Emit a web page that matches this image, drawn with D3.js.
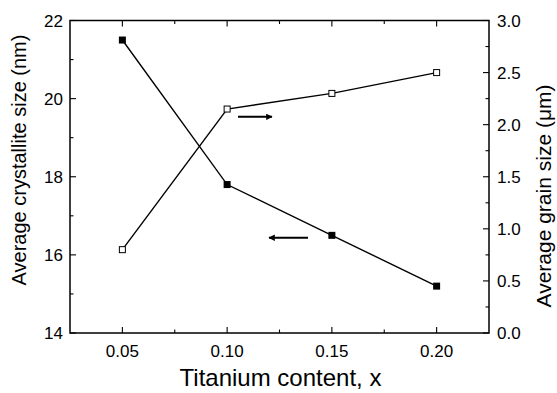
<!DOCTYPE html>
<html>
<head>
<meta charset="utf-8">
<script src="https://cdn.jsdelivr.net/npm/d3@7"></script>
<style>
  body { margin: 0; background: #fff; }
  text { font-family: "Liberation Sans", Arial, sans-serif; fill: #000; }
</style>
</head>
<body>
<div id="chart"></div>
<script>
// data
var titanium = [0.05, 0.10, 0.15, 0.20];
var crystalliteSize = [21.5, 17.8, 16.5, 15.2];   // nm, left axis
var grainSize = [0.80, 2.15, 2.30, 2.50];          // um, right axis
var xTicks = [0.05, 0.10, 0.15, 0.20];
var yLeftTicks = [14, 16, 18, 20, 22];
var yRightTicks = [0.0, 0.5, 1.0, 1.5, 2.0, 2.5, 3.0];
// arrows: [x start, x end, y] in data units
var arrowRight = [0.1052, 0.1214, 2.075];
var arrowLeft = [0.1386, 0.1200, 16.44];

var W = 557, H = 393;
var margin = {top: 20.5, right: 68, bottom: 60, left: 70};
var w = W - margin.left - margin.right,
    h = H - margin.top - margin.bottom;

var svg = d3.select("#chart").append("svg")
    .attr("width", W)
    .attr("height", H);

var defs = svg.append("defs");
defs.append("marker")
    .attr("id", "head")
    .attr("viewBox", "0 0 10 10")
    .attr("refX", 9).attr("refY", 5)
    .attr("markerWidth", 5.5).attr("markerHeight", 3.2)
    .attr("markerUnits", "strokeWidth")
    .attr("orient", "auto")
  .append("path")
    .attr("d", "M0,0 L10,5 L0,10 Z")
    .attr("fill", "#000");

var g = svg.append("g")
    .attr("transform", "translate(" + margin.left + "," + margin.top + ")");

var x = d3.scaleLinear().domain([0.025, 0.225]).range([0, w]);
var yL = d3.scaleLinear().domain([14, 22]).range([h, 0]);
var yR = d3.scaleLinear().domain([0, 3]).range([h, 0]);

function minor(ticks) {
  var out = [];
  for (var i = 0; i < ticks.length - 1; i++) out.push((ticks[i] + ticks[i + 1]) / 2);
  return out;
}
var xMinor = minor(xTicks);

// frame
g.append("rect")
    .attr("width", w).attr("height", h)
    .attr("fill", "none")
    .attr("stroke", "#000")
    .attr("stroke-width", 1.5);

// ticks, pointing inward
function tickLines(vals, len, fn) {
  g.append("g").selectAll("line").data(vals).enter().append("line")
    .attr("stroke", "#000").attr("stroke-width", 1.1)
    .each(function(d) { fn(d3.select(this), d, len); });
}
var bottomT = function(s, d, l) { s.attr("x1", x(d)).attr("x2", x(d)).attr("y1", h).attr("y2", h - l); };
var topT = function(s, d, l) { s.attr("x1", x(d)).attr("x2", x(d)).attr("y1", 0).attr("y2", l); };
var leftT = function(s, d, l) { s.attr("x1", 0).attr("x2", l).attr("y1", yL(d)).attr("y2", yL(d)); };
var rightT = function(s, d, l) { s.attr("x1", w).attr("x2", w - l).attr("y1", yR(d)).attr("y2", yR(d)); };

tickLines(xTicks, 6, bottomT);
tickLines(xMinor, 3.5, bottomT);
tickLines(xTicks, 6, topT);
tickLines(xMinor, 3.5, topT);
tickLines(yLeftTicks, 6, leftT);
tickLines(minor(yLeftTicks), 3.5, leftT);
tickLines(yRightTicks, 6, rightT);
tickLines(minor(yRightTicks), 3.5, rightT);

// tick labels
g.append("g").selectAll("text").data(xTicks).enter().append("text")
    .attr("x", function(d) { return x(d); })
    .attr("y", h + 24)
    .attr("text-anchor", "middle")
    .attr("font-size", 17)
    .text(d3.format(".2f"));

g.append("g").selectAll("text").data(yLeftTicks).enter().append("text")
    .attr("x", -7)
    .attr("y", function(d) { return yL(d) + 6; })
    .attr("text-anchor", "end")
    .attr("font-size", 17)
    .text(d3.format("d"));

g.append("g").selectAll("text").data(yRightTicks).enter().append("text")
    .attr("x", w + 8)
    .attr("y", function(d) { return yR(d) + 6; })
    .attr("text-anchor", "start")
    .attr("font-size", 17)
    .text(d3.format(".1f"));

// axis titles
g.append("text")
    .attr("x", w / 2 + 1)
    .attr("y", h + 53)
    .attr("text-anchor", "middle")
    .attr("font-size", 24)
    .text("Titanium content, x");

svg.append("text")
    .attr("transform", "translate(26," + 160 + ") rotate(-90)")
    .attr("text-anchor", "middle")
    .attr("font-size", 20)
    .text("Average crystallite size (nm)");

svg.append("text")
    .attr("transform", "translate(551," + 196 + ") rotate(-90)")
    .attr("text-anchor", "middle")
    .attr("font-size", 21)
    .text("Average grain size (\u03bcm)");

// series lines
var lineL = d3.line().x(function(d, i) { return x(titanium[i]); }).y(function(d) { return yL(d); });
var lineR = d3.line().x(function(d, i) { return x(titanium[i]); }).y(function(d) { return yR(d); });

g.append("path").datum(crystalliteSize)
    .attr("d", lineL).attr("fill", "none").attr("stroke", "#000").attr("stroke-width", 1.4);
g.append("path").datum(grainSize)
    .attr("d", lineR).attr("fill", "none").attr("stroke", "#000").attr("stroke-width", 1.4);

var ms = 7;
g.append("g").selectAll("rect").data(crystalliteSize).enter().append("rect")
    .attr("x", function(d, i) { return x(titanium[i]) - ms / 2; })
    .attr("y", function(d) { return yL(d) - ms / 2; })
    .attr("width", ms).attr("height", ms)
    .attr("fill", "#000");

g.append("g").selectAll("rect").data(grainSize).enter().append("rect")
    .attr("x", function(d, i) { return x(titanium[i]) - (ms - 1) / 2; })
    .attr("y", function(d) { return yR(d) - (ms - 1) / 2; })
    .attr("width", ms - 1).attr("height", ms - 1)
    .attr("fill", "#fff").attr("stroke", "#000").attr("stroke-width", 1);

// arrows
g.append("line")
    .attr("x1", x(arrowRight[0])).attr("x2", x(arrowRight[1]))
    .attr("y1", yR(arrowRight[2])).attr("y2", yR(arrowRight[2]))
    .attr("stroke", "#000").attr("stroke-width", 2)
    .attr("marker-end", "url(#head)");
g.append("line")
    .attr("x1", x(arrowLeft[0])).attr("x2", x(arrowLeft[1]))
    .attr("y1", yL(arrowLeft[2])).attr("y2", yL(arrowLeft[2]))
    .attr("stroke", "#000").attr("stroke-width", 2)
    .attr("marker-end", "url(#head)");
</script>
</body>
</html>
